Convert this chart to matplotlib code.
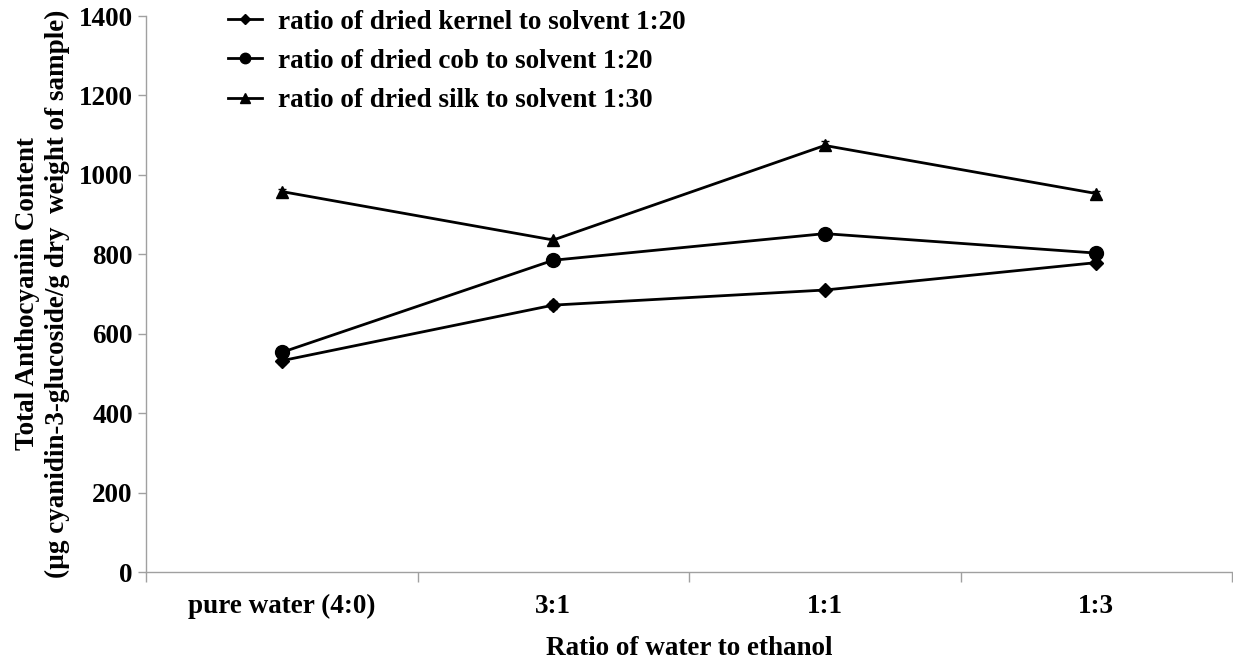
import numpy as np
import matplotlib.pyplot as plt
from matplotlib.lines import Line2D

plt.rcParams['font.family'] = ['Liberation Serif', 'DejaVu Serif']
plt.rcParams['font.weight'] = 'bold'

# Data
categories = ['pure water (4:0)', '3:1', '1:1', '1:3']
kernel = [532, 672, 710, 779]
cob = [553, 785, 852, 803]
silk = [958, 836, 1074, 953]
kernel_err = [8, 10, 6, 6]
cob_err = [6, 6, 8, 6]
silk_err = [6, 6, 12, 6]
labels = ['ratio of dried kernel to solvent 1:20',
          'ratio of dried cob to solvent 1:20',
          'ratio of dried silk to solvent 1:30']

fs = 19.5
fig = plt.figure(figsize=(12.33, 6.63), dpi=100)
ax = fig.add_axes([146 / 1233, 91 / 663, 1086 / 1233, 556 / 663])

x = np.arange(len(categories))
series = [(kernel, kernel_err, 'D', 7), (cob, cob_err, 'o', 10), (silk, silk_err, '^', 9)]
handles = []
for (vals, err, mk, ms), lab in zip(series, labels):
    ax.errorbar(x, vals, yerr=err, color='black', marker=mk, markersize=ms,
                linewidth=2, elinewidth=1, capsize=3)
    handles.append(Line2D([], [], color='black', marker=mk, markersize=ms * 0.75,
                          linewidth=2, label=lab))

ax.set_xlim(-0.5, len(categories) - 0.5)
ax.set_ylim(0, 1400)
ax.set_yticks(np.arange(0, 1401, 200))

ax.set_xticks(x)
ax.set_xticklabels(categories, fontsize=fs, fontweight='bold')
ax.set_xticks(np.arange(-0.5, len(categories)), minor=True)
ax.tick_params(axis='x', which='major', length=0, pad=16)
ax.tick_params(axis='x', which='minor', length=7, width=1, color='#a0a0a0', direction='out')
ax.tick_params(axis='y', length=6, width=1, color='#a0a0a0', direction='out', labelsize=fs)
for t in ax.get_yticklabels():
    t.set_fontweight('bold')

for s in ['top', 'right']:
    ax.spines[s].set_visible(False)
for s in ['left', 'bottom']:
    ax.spines[s].set_color('#a0a0a0')
    ax.spines[s].set_linewidth(1)

ax.set_xlabel('Ratio of water to ethanol', fontsize=fs, fontweight='bold', labelpad=12)
ax.set_ylabel('Total Anthocyanin Content\n(µg cyanidin-3-glucoside/g dry  weight of sample)',
              fontsize=fs, fontweight='bold', labelpad=6, linespacing=1.25)

ax.legend(handles=handles, loc='upper left', bbox_to_anchor=(0.0755, 1.011), frameon=False,
          prop={'size': fs, 'weight': 'bold'}, handlelength=1.25, handletextpad=0.6,
          labelspacing=0.52, borderpad=0, borderaxespad=0)

fig.savefig('out.png', dpi=100)
